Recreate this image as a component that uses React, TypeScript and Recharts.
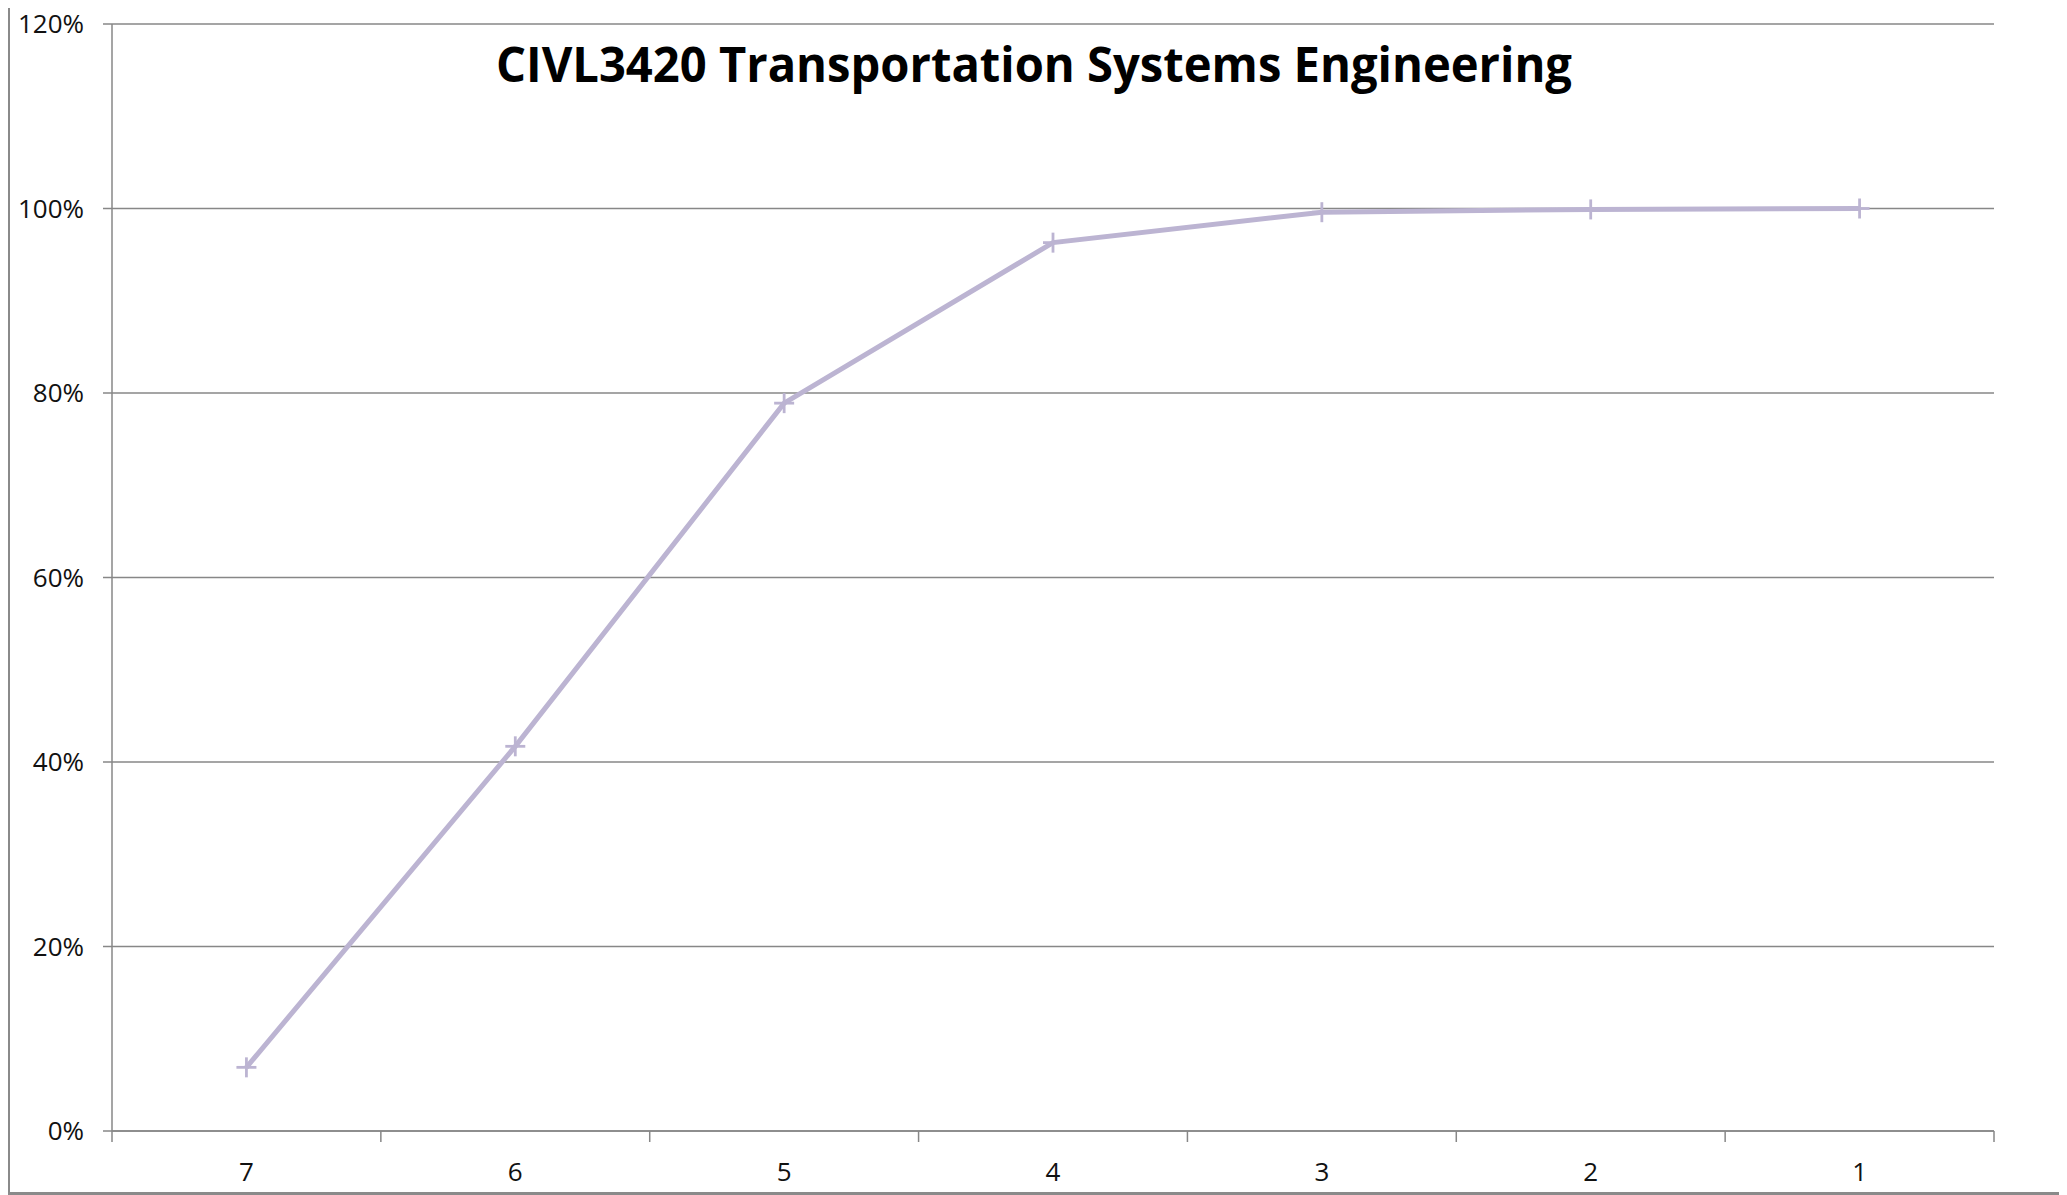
import React from 'react';
import { LineChart, Line, XAxis, YAxis, CartesianGrid } from 'recharts';

const CATEGORIES = ['7', '6', '5', '4', '3', '2', '1'];
const SHARE = [0.069, 0.417, 0.789, 0.963, 0.996, 0.999, 1.0];
const Y_TICKS = [0, 0.2, 0.4, 0.6, 0.8, 1.0, 1.2];
const TITLE = 'CIVL3420 Transportation Systems Engineering';

const AXIS_GREY = '#878787';
const LINE_COLOR = '#bcb4d2';
const FONT = '"Open Sans", "Liberation Sans", sans-serif';

const data = CATEGORIES.map((name, i) => ({ name, share: SHARE[i] }));

// Excel style: labels in the middle of each band, tick marks on the band edges
function CategoryTick(props: any) {
  const { x, y, index, payload, width, visibleTicksCount } = props;
  const count = visibleTicksCount || CATEGORIES.length;
  const half = payload?.offset ? payload.offset : width / count / 2;
  return (
    <g>
      <line x1={x - half} x2={x - half} y1={y} y2={y + 11} stroke={AXIS_GREY} strokeWidth={1.5} />
      {index === count - 1 && (
        <line x1={x + half} x2={x + half} y1={y} y2={y + 11} stroke={AXIS_GREY} strokeWidth={1.5} />
      )}
      <text x={x} y={y + 50} textAnchor="middle" fill="#111" fontSize={26} fontFamily={FONT}>
        {payload.value}
      </text>
    </g>
  );
}

function PlusDot(props: any) {
  const { cx, cy } = props;
  if (cx == null || cy == null) return null;
  return (
    <g>
      <line x1={cx - 10} x2={cx + 10} y1={cy} y2={cy} stroke={LINE_COLOR} strokeWidth={2.8} />
      <line x1={cx} x2={cx} y1={cy - 10} y2={cy + 10} stroke={LINE_COLOR} strokeWidth={2.8} />
    </g>
  );
}

export default function App() {
  return (
    <div style={{ position: 'relative', width: 2067, height: 1195, margin: '-8px 0 0 -8px', background: '#fff' }}>
      <LineChart
        width={2067}
        height={1195}
        data={data}
        margin={{ top: 24, right: 73, bottom: 14, left: 0 }}
      >
        <CartesianGrid vertical={false} stroke={AXIS_GREY} strokeWidth={1.4} />
        <XAxis
          dataKey="name"
          scale="band"
          height={50}
          axisLine={{ stroke: AXIS_GREY, strokeWidth: 1.5 }}
          tickLine={false}
          tickSize={0}
          tickMargin={0}
          interval={0}
          tick={<CategoryTick />}
        />
        <YAxis
          width={112}
          domain={[0, 1.2]}
          ticks={Y_TICKS}
          interval={0}
          tickFormatter={(v: number) => `${Math.round(v * 100)}%`}
          axisLine={{ stroke: AXIS_GREY, strokeWidth: 1.5 }}
          tickLine={{ stroke: AXIS_GREY, strokeWidth: 1.5 }}
          tickSize={9}
          tickMargin={19}
          tick={{ fill: '#111', fontSize: 26, fontFamily: FONT }}
        />
        <Line
          type="linear"
          dataKey="share"
          stroke={LINE_COLOR}
          strokeWidth={5}
          dot={<PlusDot />}
          activeDot={false}
          isAnimationActive={false}
        />
      </LineChart>
      <svg
        width={2067}
        height={120}
        style={{ position: 'absolute', left: 0, top: 0, pointerEvents: 'none' }}
      >
        <text
          x={1034}
          y={82}
          textAnchor="middle"
          fontFamily={FONT}
          fontWeight={700}
          fontSize={48}
          fill="#000"
          textLength={1076}
          lengthAdjust="spacingAndGlyphs"
        >
          {TITLE}
        </text>
      </svg>
      <div
        style={{
          position: 'absolute',
          left: 7,
          top: 3,
          width: 2056,
          height: 1192,
          border: '3px solid #8a8a8a',
          boxSizing: 'border-box',
          pointerEvents: 'none',
        }}
      />
    </div>
  );
}
